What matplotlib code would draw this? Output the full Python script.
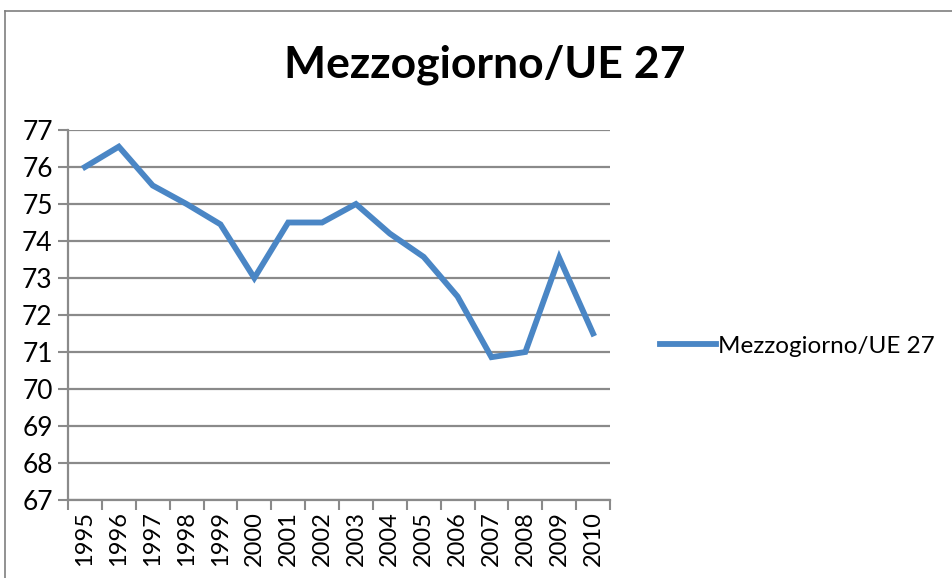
import matplotlib.pyplot as plt
from matplotlib.lines import Line2D
from matplotlib.ticker import FixedLocator

plt.rcParams['font.family'] = ['Lato', 'DejaVu Sans']

# Dati
anni = ['1995', '1996', '1997', '1998', '1999', '2000', '2001', '2002',
        '2003', '2004', '2005', '2006', '2007', '2008', '2009', '2010']
valori = [76.0, 76.55, 75.5, 75.0, 74.45, 73.0, 74.5, 74.5,
          75.0, 74.2, 73.57, 72.5, 70.86, 71.0, 73.55, 71.5]
serie = 'Mezzogiorno/UE 27'
titolo = 'Mezzogiorno/UE 27'

W, H = 952, 578
fig = plt.figure(figsize=(W / 100, H / 100), dpi=100)
ax = fig.add_axes([68 / W, 1 - 500 / H, (610 - 68) / W, (500 - 130) / H])

grigio = '#8a8a8a'
blu = '#4a86c5'

x = range(len(anni))
ax.plot(x, valori, color=blu, lw=4.2, solid_joinstyle='miter', label=serie)

ax.set_xlim(-0.5, len(anni) - 0.5)
ax.set_ylim(67, 77)
ax.set_yticks(range(67, 78))
ax.tick_params(axis='y', labelsize=19, length=7, width=1.5, color=grigio, pad=4)
ax.yaxis.grid(True, color=grigio, lw=1.6)
ax.set_axisbelow(True)

ax.set_xticks(list(x))
ax.set_xticklabels(anni, rotation=90, fontsize=17)
ax.tick_params(axis='x', length=0, pad=8)
ax.xaxis.set_minor_locator(FixedLocator([i - 0.5 for i in range(len(anni) + 1)]))
ax.tick_params(axis='x', which='minor', length=7, width=1.5, color=grigio)

for s in ['top', 'right']:
    ax.spines[s].set_visible(False)
for s in ['left', 'bottom']:
    ax.spines[s].set_color(grigio)
    ax.spines[s].set_linewidth(1.6)

fig.text(485 / W, 1 - 65 / H, titolo, ha='center', va='center',
         fontsize=32, fontweight='bold')

handle = Line2D([], [], color=blu, lw=4.2)
fig.legend([handle], [serie], loc='center left', bbox_to_anchor=(660 / W, 1 - 346 / H),
           frameon=False, fontsize=17.5, handlelength=2.3, handletextpad=0.1,
           borderaxespad=0, borderpad=0)

# bordo del grafico (solo sinistra e alto visibili)
fig.add_artist(Line2D([4.5 / W, 4.5 / W], [0, 1 - 11 / H], color='#7f7f7f', lw=1.2,
                      transform=fig.transFigure))
fig.add_artist(Line2D([4.5 / W, 1], [1 - 11 / H, 1 - 11 / H], color='#7f7f7f', lw=1.2,
                      transform=fig.transFigure))

fig.savefig('out.png', dpi=100)
